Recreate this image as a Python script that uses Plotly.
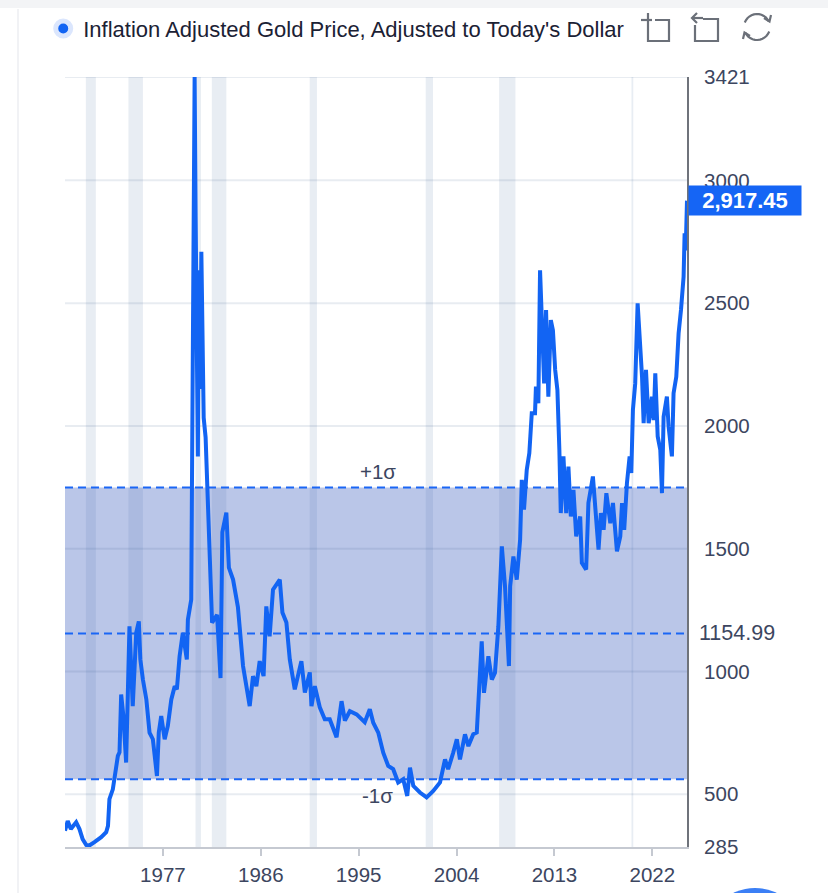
import math

import plotly.graph_objects as go

# inflation adjusted gold price (today's dollars)
dates_1968_1979 = [
    "1968-01-01", "1968-04-01", "1968-07-15", "1969-01-10", "1969-05-01", "1969-08-15",
    "1969-12-15", "1970-03-15", "1970-09-15", "1971-05-01", "1971-10-15", "1971-12-15",
    "1972-02-01", "1972-05-25", "1972-11-10", "1973-01-05", "1973-03-01", "1973-05-15",
    "1973-08-15", "1973-10-10", "1973-12-05", "1974-03-25", "1974-05-25", "1974-07-20",
    "1974-10-15", "1974-12-05", "1975-03-01", "1975-06-25", "1975-10-10", "1976-01-30",
    "1976-06-15", "1976-08-15", "1976-11-05", "1977-03-01", "1977-06-15", "1977-10-10",
    "1978-02-01", "1978-04-15", "1978-07-15", "1978-11-01", "1979-03-15", "1979-04-20",
    "1979-08-10", "1979-09-10", "1979-10-10", "1979-11-01", "1979-11-20", "1979-12-02",
]
prices_1968_1979 = [
    351, 391, 358, 386, 358, 317,
    293, 290, 305, 325, 345, 371,
    480, 520, 656, 671, 906, 818,
    629, 886, 1184, 859, 981, 1157,
    1204, 1049, 967, 886, 751, 724,
    574, 751, 818, 724, 778, 886,
    940, 927, 1062, 1157, 1049, 1211,
    1293, 1840, 2300, 2600, 3094, 3421,
]

dates_1980_1999 = [
    "1980-01-05", "1980-03-20", "1980-04-20", "1980-06-01", "1980-07-15", "1980-09-05",
    "1980-10-01", "1980-12-05", "1981-02-01", "1981-04-01", "1981-05-20", "1981-07-10",
    "1981-12-25", "1982-03-01", "1982-04-20", "1982-06-20", "1982-11-01", "1983-01-25",
    "1983-06-15", "1983-11-25", "1984-03-20", "1984-05-15", "1984-12-25", "1985-04-15",
    "1985-08-05", "1985-11-25", "1986-04-05", "1986-07-05", "1986-10-25", "1987-02-15",
    "1987-10-01", "1987-12-28", "1988-05-10", "1988-09-01", "1989-02-15", "1989-09-25",
    "1990-01-20", "1990-07-05", "1990-08-30", "1990-12-20", "1991-06-05", "1991-11-20",
    "1992-05-05", "1992-12-20", "1993-06-05", "1993-09-25", "1994-03-10", "1994-10-25",
    "1995-07-25", "1996-01-10", "1996-05-05", "1996-10-20", "1997-04-05", "1997-09-20",
    "1998-03-05", "1998-08-20", "1999-02-05", "1999-06-20", "1999-09-20",
]
prices_1980_1999 = [
    2851, 1875, 2634, 2150, 2709, 2258,
    2033, 1953, 1760, 1600, 1359, 1199,
    1230, 1069, 973, 1567, 1647, 1423,
    1374, 1262, 1077, 1022, 859, 981,
    940, 1042, 981, 1265, 1143, 1333,
    1374, 1240, 1199, 1049, 927, 1042,
    914, 996, 859, 940, 854, 805,
    805, 732, 879, 800, 838, 825,
    793, 846, 791, 751, 669, 615,
    602, 548, 561, 493, 608,
]

dates_2000_2025 = [
    "2000-01-10", "2000-08-20", "2001-04-01", "2001-11-10", "2002-06-25", "2002-12-10",
    "2003-03-25", "2003-09-10", "2004-01-10", "2004-04-25", "2004-10-10", "2005-02-01",
    "2005-07-15", "2005-11-10", "2006-01-05", "2006-04-25", "2006-07-10", "2006-12-05",
    "2007-03-30", "2007-07-15", "2007-11-05", "2008-03-01", "2008-06-15", "2008-10-25",
    "2008-12-05", "2009-03-25", "2009-07-15", "2009-11-05", "2009-12-31", "2010-03-15",
    "2010-06-15", "2010-09-10", "2010-12-01", "2011-03-20", "2011-04-20", "2011-07-10",
    "2011-09-05", "2011-11-01", "2012-01-20", "2012-03-25", "2012-06-10", "2012-09-01",
    "2012-11-10", "2013-01-25", "2013-04-10", "2013-06-15", "2013-08-01", "2013-10-30",
    "2014-01-30", "2014-04-15", "2014-07-05", "2014-10-01", "2015-01-01", "2015-05-15",
    "2015-07-10", "2015-12-01", "2016-02-15", "2016-07-15", "2016-10-01", "2017-01-20",
    "2017-04-10", "2017-07-10", "2017-10-10", "2018-02-20", "2018-05-20", "2018-10-01",
    "2019-01-20", "2019-03-20", "2019-06-01", "2019-09-01", "2019-11-30", "2020-01-25",
    "2020-03-20", "2020-06-05", "2020-08-25", "2020-10-30", "2021-01-20", "2021-03-15",
    "2021-06-01", "2021-08-30", "2021-12-20", "2022-02-15", "2022-04-10", "2022-06-30",
    "2022-09-25", "2022-11-20", "2023-01-15", "2023-05-05", "2023-07-01", "2023-10-20",
    "2023-12-15", "2024-03-15", "2024-06-01", "2024-08-20", "2024-09-25", "2024-11-15",
    "2024-12-20", "2025-01-25", "2025-03-10",
]
prices_2000_2025 = [
    534, 507, 487, 513, 548, 642,
    602, 669, 724, 642, 744, 696,
    744, 751, 873, 1123, 913, 1062,
    967, 995, 1184, 1509, 1347, 1022,
    1347, 1468, 1374, 1537, 1780, 1659,
    1821, 1889, 2052, 2052, 2160, 2092,
    2634, 2472, 2173, 2472, 2119, 2431,
    2390, 2228, 2146, 1902, 1645, 1876,
    1645, 1834, 1631, 1740, 1550, 1631,
    1442, 1415, 1686, 1794, 1645, 1496,
    1645, 1577, 1726, 1604, 1686, 1489,
    1550, 1686, 1577, 1767, 1876, 1808,
    2065, 2173, 2499, 2363, 2200, 2011,
    2228, 2011, 2119, 2024, 2214, 1957,
    1902, 1726, 2038, 2119, 1997, 1876,
    2133, 2200, 2377, 2472, 2539, 2607,
    2784, 2715, 2917.45,
]

recession_starts = ["1969-12-01", "1973-11-01", "1980-01-01", "1981-07-01",
                    "1990-07-01", "2001-03-01", "2007-12-01", "2020-02-01"]
recession_ends = ["1970-11-01", "1975-03-01", "1980-07-01", "1982-11-01",
                  "1991-03-01", "2001-11-01", "2009-06-01", "2020-04-01"]

mean_price = 1154.99
sigma = 594

x_tick_years = [1977, 1986, 1995, 2004, 2013, 2022]
y_tick_values = [285, 500, 1000, 1500, 2000, 2500, 3000, 3421]

dates = dates_1968_1979 + dates_1980_1999 + dates_2000_2025
prices = prices_1968_1979 + prices_1980_1999 + prices_2000_2025
assert len(dates) == len(prices)

BLUE = "#1264f3"
TEXT = "#3c4660"
FONT = "Liberation Sans, Arial, sans-serif"

W, H = 828, 893
M = dict(l=65, r=141, t=77, b=46, autoexpand=False)
PW = W - M["l"] - M["r"]
PH = H - M["t"] - M["b"]


def px(x, y):
    # pixel position on the page -> paper coordinates (decorations only)
    return (x - M["l"]) / PW, (H - M["b"] - y) / PH


def path(points):
    out = []
    for i, (x, y) in enumerate(points):
        a, b = px(x, y)
        out.append(("M" if i == 0 else "L") + f"{a:.5f},{b:.5f}")
    return " ".join(out)


def arc(cx, cy, r, a0, a1, n=12):
    pts = []
    for i in range(n + 1):
        t = math.radians(a0 + (a1 - a0) * i / n)
        pts.append((cx + r * math.cos(t), cy + r * math.sin(t)))
    return pts


fig = go.Figure()

fig.add_trace(go.Scatter(
    x=dates, y=prices, mode="lines",
    line=dict(color=BLUE, width=4),
    showlegend=False, hoverinfo="x+y",
))
# legend entry drawn as a dot, like the reference
fig.add_trace(go.Scatter(
    x=[None], y=[None], mode="markers",
    marker=dict(color=BLUE, size=15, line=dict(color="#dbe6fd", width=5)),
    name="Inflation Adjusted Gold Price, Adjusted to Today's Dollar",
))

shapes = []
for s, e in zip(recession_starts, recession_ends):
    shapes.append(dict(type="rect", xref="x", yref="paper", x0=s, x1=e, y0=0, y1=1,
                       fillcolor="#e8edf3", line=dict(width=0), layer="between"))

shapes.append(dict(type="rect", xref="paper", yref="y", x0=0, x1=1,
                   y0=mean_price - sigma, y1=mean_price + sigma,
                   fillcolor="rgba(58,92,189,0.35)", line=dict(width=0), layer="between"))
# horizontal grid as translucent shapes: light on white, a touch darker inside the band
for v in y_tick_values[1:]:
    shapes.append(dict(type="line", xref="paper", yref="y", x0=0, x1=1, y0=v, y1=v,
                       line=dict(color="rgba(25,65,115,0.1)", width=2), layer="between"))
for lvl in (mean_price - sigma, mean_price, mean_price + sigma):
    shapes.append(dict(type="line", xref="paper", yref="y", x0=0, x1=1, y0=lvl, y1=lvl,
                       line=dict(color="#1a66f5", width=2, dash="8px,5px"), layer="between"))

# toolbar icons (top right)
icon = dict(color="#6b7079", width=2.2)
for pts in (
    [(655, 20), (669, 20), (669, 41), (648, 41), (648, 13)],
    [(641, 20), (652, 20)],
    [(703, 19), (718, 19), (718, 41), (695, 41), (695, 25)],
    [(692, 18), (703, 18)],
    [(697, 13), (692, 18), (697, 23)],
    arc(757, 27, 13, 200, 335),
    arc(757, 27, 13, 20, 155),
    [(764, 18), (769.5, 21.5), (771, 15)],
    [(750, 36), (744.5, 32.5), (743, 39)],
):
    shapes.append(dict(type="path", xref="paper", yref="paper", line=icon, path=path(pts)))

# card edge and floating button peeking in at the bottom
shapes.append(dict(type="path", xref="paper", yref="paper",
                   line=dict(color="#eceef2", width=1.5), path=path([(18, 9), (18, 893)])))
shapes.append(dict(type="rect", xref="paper", yref="paper", line=dict(width=0),
                   fillcolor="#f3f4f6", x0=px(0, 0)[0], x1=px(828, 0)[0],
                   y0=px(0, 8)[1], y1=px(0, 0)[1]))
cx0, cy0 = px(705, 988)
cx1, cy1 = px(805, 888)
shapes.append(dict(type="circle", xref="paper", yref="paper", x0=cx0, x1=cx1, y0=cy0, y1=cy1,
                   fillcolor="#3b7ff5", line=dict(width=0)))

annotations = [
    dict(x="1996-10-01", y=mean_price + sigma, text="+1σ", showarrow=False,
         yanchor="bottom", yshift=3, font=dict(size=20.5, color=TEXT)),
    dict(x="1996-10-01", y=mean_price - sigma, text="-1σ", showarrow=False,
         yanchor="top", yshift=-3, font=dict(size=20.5, color=TEXT)),
    dict(xref="paper", x=1, y=mean_price, text=f"{mean_price:.2f}", showarrow=False,
         xanchor="left", xshift=10, font=dict(size=21.5, color=TEXT)),
    dict(xref="paper", x=1, y=prices[-1], text="<b>2,917.45</b>", showarrow=False,
         xanchor="left", xshift=1, bgcolor="#1565f5", borderpad=2, width=108,
         font=dict(size=22, color="white")),
]

fig.update_layout(
    width=W, height=H,
    margin=M,
    paper_bgcolor="white",
    plot_bgcolor="white",
    font=dict(family=FONT, size=20.5, color=TEXT),
    shapes=shapes,
    annotations=annotations,
    showlegend=True,
    legend=dict(orientation="h", x=-0.035, xanchor="left", y=1.09, yanchor="top",
                font=dict(size=22, color="#1b2134"), bgcolor="rgba(0,0,0,0)",
                itemwidth=30),
    hovermode="x",
)

fig.update_xaxes(
    type="date",
    range=["1968-01-01", "2025-03-10"],
    tickvals=[f"{y}-01-01" for y in x_tick_years],
    ticktext=[str(y) for y in x_tick_years],
    showgrid=False, zeroline=False,
    showline=True, linecolor="#c5c9d1", linewidth=2,
    ticks="outside", ticklen=7, tickwidth=2, tickcolor="#c5c9d1",
    ticklabelstandoff=1,
    tickfont=dict(size=20.5, color=TEXT),
)
fig.update_yaxes(
    side="right",
    range=[y_tick_values[0], y_tick_values[-1]],
    tickvals=y_tick_values,
    ticktext=[str(v) for v in y_tick_values],
    showgrid=False,
    zeroline=False,
    showline=True, linecolor="#6f737b", linewidth=2,
    ticks="", ticklabelstandoff=11,
    tickfont=dict(size=20.5, color=TEXT),
)

fig.write_html(
    "out.html",
    config={"displayModeBar": False},
    post_script="document.body.style.margin = '0';",
)
